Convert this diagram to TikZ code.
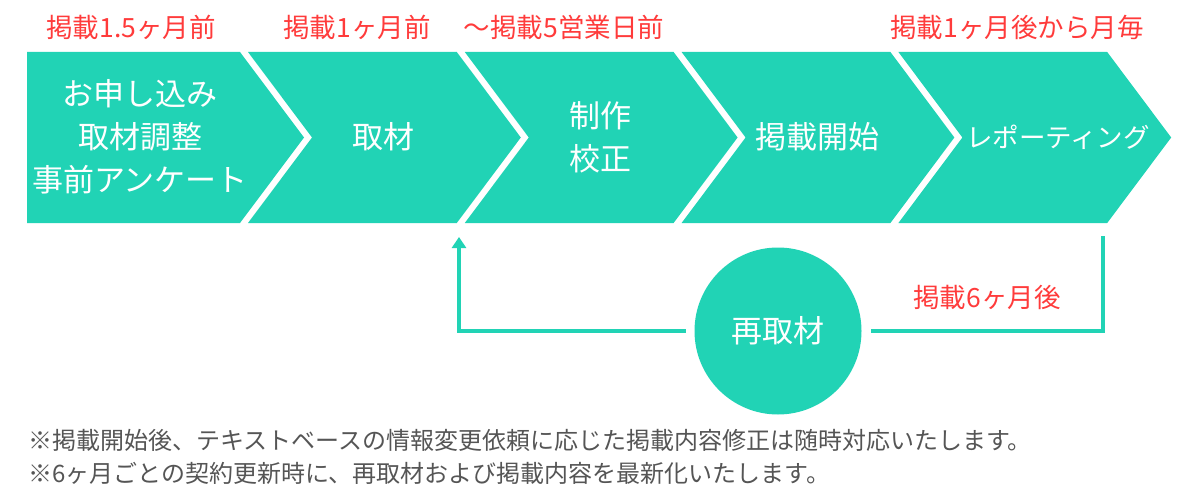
\documentclass[tikz,border=0pt]{standalone}
\usepackage{fontspec}
\setmainfont{Noto Sans CJK JP}
\usetikzlibrary{arrows.meta}

\definecolor{mint}{HTML}{21D3B5}
\definecolor{alert}{HTML}{FF3B3B}
\definecolor{note}{HTML}{555555}

\tikzset{
	stage/.style = {text = white, align = center, font = \fontsize{31}{43}\selectfont},
	timing/.style = {text = alert, font = \fontsize{26.5}{30}\selectfont},
	remark/.style = {text = note, anchor = west, inner sep = 0, font = \fontsize{24}{28}\selectfont},
	flow/.style = {mint, line width = 4pt}
}

\begin{document}
\begin{tikzpicture}[x = 1pt, y = -1pt, > = {Triangle[length = 11pt, width = 14pt]}]

	\useasboundingbox (0, 0) rectangle (1200, 500);
	
	% Chevron band
	
	\foreach \k in {0, 1, ..., 4}
	{
	
		% Left edge, notch depth and right corner of step \k
		
		\pgfmathsetmacro{\xl}{\k == 0 ? 27 : 248 + 216.8 * (\k - 1)}
		\pgfmathsetmacro{\dl}{\k == 0 ? 0 : 64}
		\pgfmathsetmacro{\xr}{240 + 216.8 * \k}
		
		\fill [mint] (\xl, 52) -- (\xr, 52) -- ({\xr + 64}, 137.5) -- (\xr, 223) -- (\xl, 223) -- ({\xl + \dl}, 137.5) -- cycle;
	}
	
	% Step labels
	
	\node [stage] (apply) at (140, 137) {お申し込み\\取材調整\\事前アンケート};
	\node [stage] (interview) at (383, 137) {取材};
	\node [stage] (produce) at (600, 137) {制作\\校正};
	\node [stage] (publish) at (817, 137) {掲載開始};
	\node [stage, font = \fontsize{26.5}{30}\selectfont] (report) at (1058, 137) {レポーティング};
	
	% Timing above each step
	
	\node [timing] (when apply) at (131, 27) {掲載1.5ヶ月前};
	\node [timing] (when interview) at (357, 27) {掲載1ヶ月前};
	\node [timing] (when produce) at (564, 27) {〜掲載5営業日前};
	\node [timing] (when report) at (1017, 27) {掲載1ヶ月後から月毎};
	
	% Re-interview loop
	
	\node [stage, circle, fill = mint, minimum size = 167pt, inner sep = 0, outer sep = 9pt] (again) at (778, 331) {再取材};
	\coordinate (report end) at (1103, 236);
	\coordinate (produce end) at (459, 237);
	
	\draw [flow] (report end) |- (again);
	\draw [flow, ->] (again) -| (produce end);
	\node [timing] (when again) at (987, 297) {掲載6ヶ月後};
	
	% Notes
	
	\node [remark] (note one) at (28, 440) {※掲載開始後、テキストベースの情報変更依頼に応じた掲載内容修正は随時対応いたします。};
	\node [remark] (note two) at (28, 473) {※6ヶ月ごとの契約更新時に、再取材および掲載内容を最新化いたします。};

\end{tikzpicture}
\end{document}
